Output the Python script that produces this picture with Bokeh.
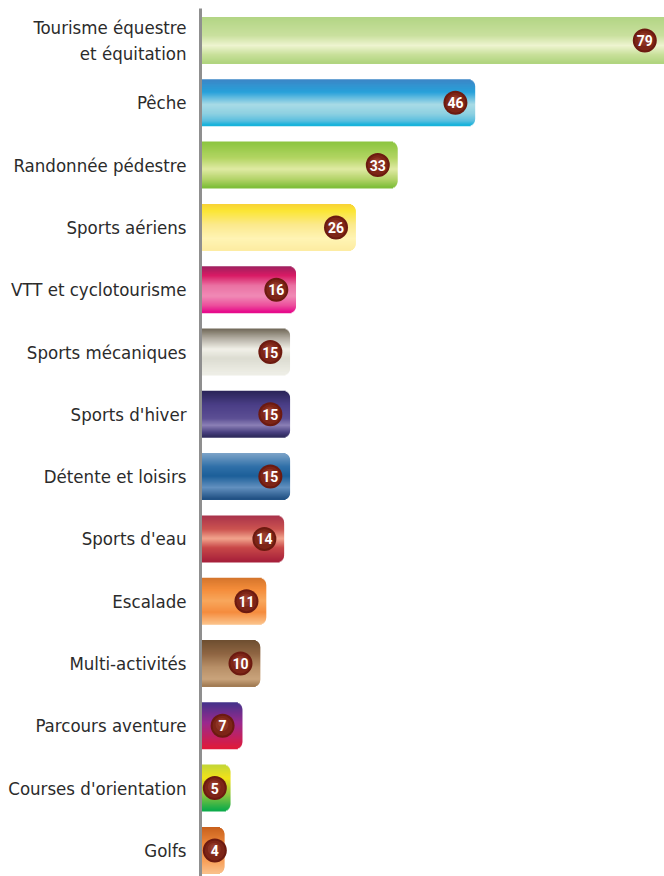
import numpy as np
from bokeh.plotting import figure
from bokeh.models import Range1d, FixedTicker
from bokeh.embed import file_html
from bokeh.resources import INLINE
from bokeh.core.properties import value

# ---- data ----
categories = ["Tourisme équestre\net équitation", "Pêche", "Randonnée pédestre",
              "Sports aériens", "VTT et cyclotourisme", "Sports mécaniques",
              "Sports d'hiver", "Détente et loisirs", "Sports d'eau", "Escalade",
              "Multi-activités", "Parcours aventure", "Courses d'orientation", "Golfs"]
counts = [79, 46, 33, 26, 16, 15, 15, 15, 14, 11, 10, 7, 5, 4]

# ---- styles: vertical gradient stops (top -> bottom) per bar ----
gradients = [
    [(0, "#b2d584"), (0.4, "#c9e09e"), (0.62, "#eef4d0"), (0.82, "#c8e09a"), (1, "#b0d47e")],
    [(0, "#3d86c6"), (0.28, "#27a1da"), (0.55, "#a9dbe6"), (0.75, "#8dd0e1"), (0.9, "#5dbfdf"), (1, "#10b2da")],
    [(0, "#8bc540"), (0.35, "#b1d461"), (0.6, "#dfeaa3"), (0.82, "#b3d369"), (1, "#7cbd37")],
    [(0, "#f8d236"), (0.15, "#fbe634"), (0.45, "#fbe98c"), (0.75, "#fff4b4"), (1, "#fdeca2")],
    [(0, "#9e2260"), (0.2, "#d81a64"), (0.42, "#ea72a3"), (0.65, "#f08ab6"), (0.85, "#ec4f9c"), (1, "#e6078a")],
    [(0, "#6f6656"), (0.22, "#b5b0a5"), (0.45, "#f1f0e8"), (0.65, "#dcdcd1"), (1, "#efefe7")],
    [(0, "#2a2457"), (0.3, "#4a3e86"), (0.6, "#5c4f94"), (0.75, "#8b80b6"), (0.9, "#4b4281"), (1, "#2e2a5b")],
    [(0, "#7da4c8"), (0.3, "#2f6fa8"), (0.5, "#1c5f99"), (0.75, "#6290bf"), (1, "#1f4f82")],
    [(0, "#a8324b"), (0.3, "#cc5450"), (0.5, "#f2a48d"), (0.7, "#c84848"), (1, "#a6203b")],
    [(0, "#d4752c"), (0.25, "#f48c3a"), (0.5, "#f8a75c"), (0.75, "#f58c3e"), (1, "#fbc188")],
    [(0, "#6d4e30"), (0.3, "#8f6542"), (0.6, "#b89068"), (0.85, "#c9a37b"), (1, "#a07a52")],
    [(0, "#43338a"), (0.45, "#9b2a8e"), (1, "#e01a3a")],
    [(0, "#c2d639"), (0.3, "#f2e218"), (0.65, "#8fc63f"), (1, "#0aaa4a")],
    [(0, "#c8601c"), (0.4, "#f08a3c"), (0.75, "#f7a05a"), (1, "#f9c08a")],
]


def hex2rgb(h):
    return np.array([int(h[i:i + 2], 16) for i in (1, 3, 5)], dtype=float)


def interp(stops, t):
    for (t0, c0), (t1, c1) in zip(stops[:-1], stops[1:]):
        if t <= t1:
            f = 0 if t1 == t0 else (t - t0) / (t1 - t0)
            c = hex2rgb(c0) * (1 - f) + hex2rgb(c1) * f
            return "#%02x%02x%02x" % tuple(int(round(v)) for v in c)
    return stops[-1][1]


W = 664
LEFT = 200
TOP = 8
FH = 868
PX_PER_UNIT = 5.97
ROW_PX = 62.3
TOP_PX = 32
BAR_PX = 46

x_end = (W - LEFT) / PX_PER_UNIT
y_top = -TOP_PX / ROW_PX
y_bottom = y_top + FH / ROW_PX

p = figure(frame_width=W - LEFT, frame_height=FH, output_backend="svg", toolbar_location=None,
           x_range=Range1d(0, x_end), y_range=Range1d(y_bottom, y_top),
           min_border_left=LEFT, min_border_right=0, min_border_top=TOP, min_border_bottom=0)
p.outline_line_color = None
p.grid.visible = False
p.xaxis.visible = False
p.background_fill_color = "white"

idx = np.arange(len(categories), dtype=float)
vals = np.array(counts, dtype=float)
h = BAR_PX / ROW_PX

N = 46
r_px = 7.0
for k in range(N):
    t = (k + 0.5) / N
    d = abs(t - 0.5) * BAR_PX
    edge = BAR_PX / 2 - r_px
    dx_px = 0.0
    if d > edge:
        dd = min(d - edge, r_px)
        dx_px = r_px - np.sqrt(r_px ** 2 - dd ** 2)
    right = vals - dx_px / PX_PER_UNIT
    cols = [interp(g, t) for g in gradients]
    p.hbar(y=idx - h / 2 + t * h, left=0, right=right, height=h / N * 2.0,
           fill_color=cols, line_color=None)

bx = np.maximum(np.minimum(vals, x_end) - 3.3, 2.4)
p.scatter(x=bx, y=idx, size=24, fill_color="#6c1a10", line_color=None)
p.scatter(x=bx, y=idx, size=20, fill_color="#7d2517", line_color=None)
p.scatter(x=bx - 0.1, y=idx - 0.02, size=13, fill_color="#8c3223", line_color=None)
p.scatter(x=bx - 0.15, y=idx - 0.04, size=7, fill_color="#9a3e2e", line_color=None)
p.text(x=bx, y=idx, text=[str(c) for c in counts], text_align="center",
       text_baseline="middle", text_color="white", text_font=value("Roboto"),
       text_font_style="bold", text_font_size=value("14px"))

ax = p.yaxis[0]
ax.ticker = FixedTicker(ticks=list(range(len(categories))))
ax.major_label_overrides = {i: c for i, c in enumerate(categories)}
ax.major_label_text_font = "DejaVu Sans Condensed"
ax.major_label_text_font_size = "18.5px"
ax.major_label_text_color = "#2b2b2b"
ax.major_tick_line_color = None
ax.minor_tick_line_color = None
ax.axis_line_color = "#8f8f8f"
ax.axis_line_width = 3
ax.major_label_standoff = 8

open("out.html", "w").write(file_html(p, INLINE))
